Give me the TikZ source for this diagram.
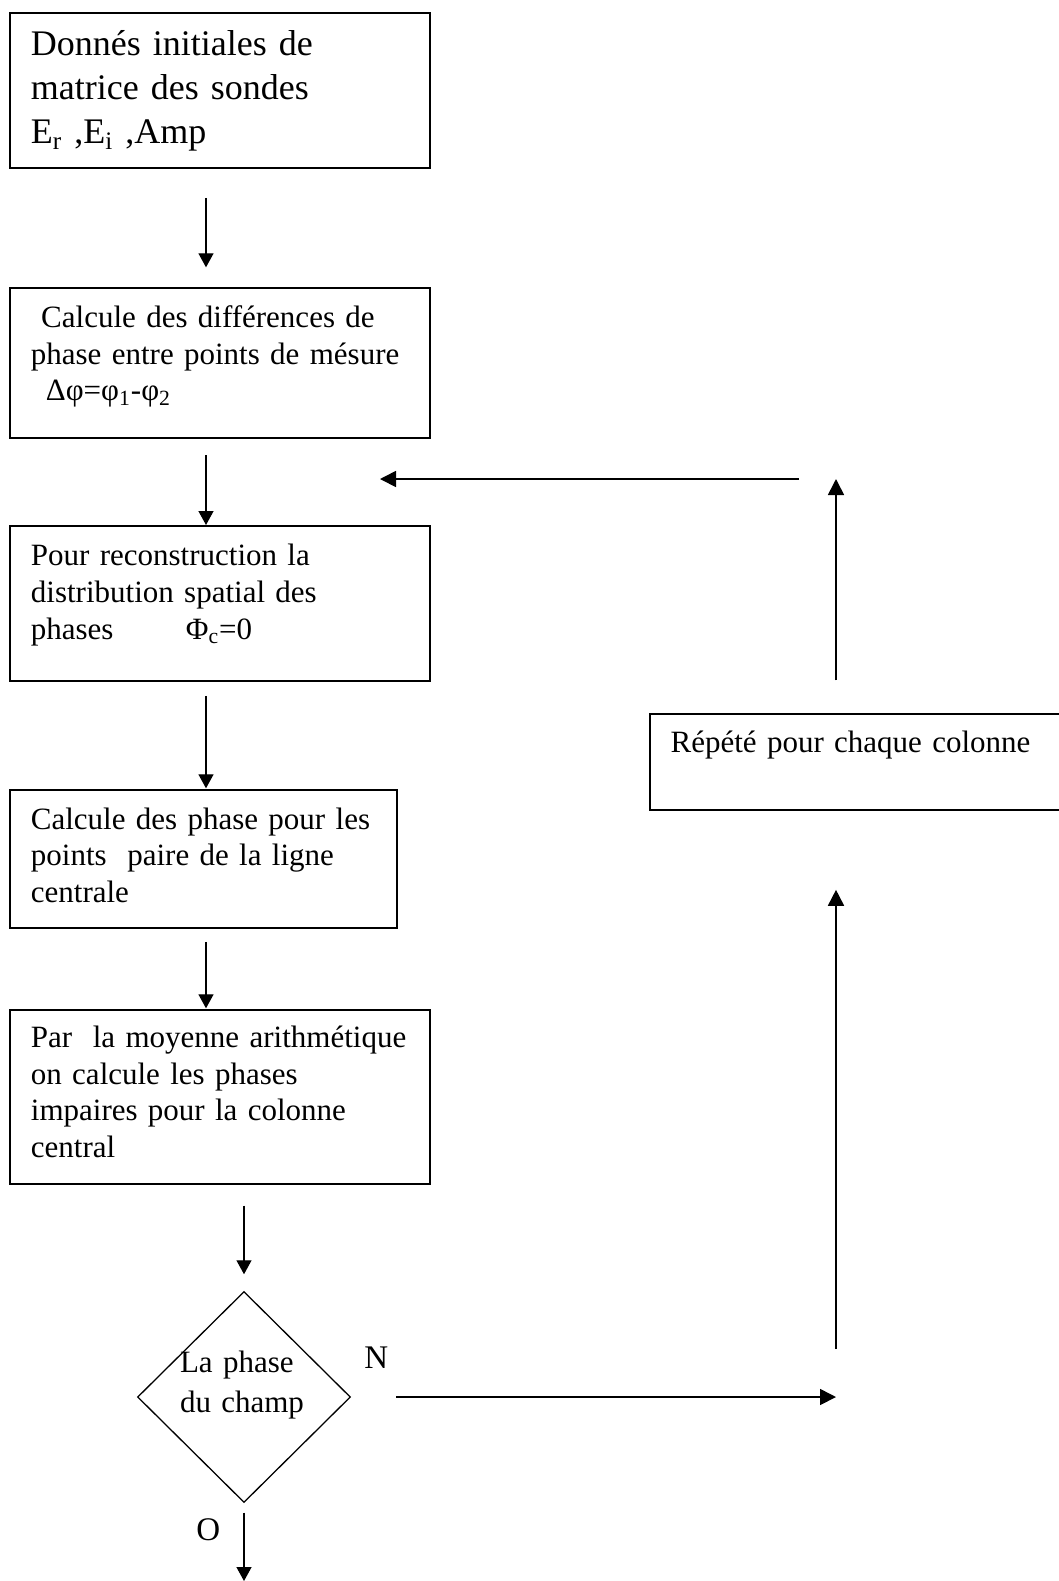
\documentclass[tikz,border=0pt]{standalone}
\usepackage{fontspec}
\setmainfont{Liberation Serif}
\usetikzlibrary{arrows.meta,shapes.geometric}

\tikzset{
  boite/.style={draw, line width=0.9pt, anchor=north west, inner xsep=10.35pt, inner ysep=0pt,
    text width=189.3pt, align=left, font=\fontsize{15.5}{18.3}\selectfont},
  losange/.style={draw, diamond, line width=0.65pt, minimum width=106.5pt, minimum height=105.5pt,
    inner sep=0pt, text width=64pt, align=left, text height=0pt, text depth=25pt,
    font=\fontsize{15.5}{20}\selectfont},
  lettre/.style={anchor=base west, inner sep=0pt, font=\fontsize{16.5}{19}\selectfont},
  fleche/.style={-{Triangle[width=7.5pt,length=7pt]}, line width=0.65pt},
  boucle/.style={-{Triangle[width=8pt,length=8pt]}, line width=0.85pt}
}

\begin{document}
\begin{tikzpicture}[x=0.5pt, y=-0.5pt]
\useasboundingbox (0,0) rectangle (1059,1581);

% Main column
\node[boite, font=\fontsize{18}{22}\selectfont, text height=21.65pt, text depth=56pt] (donnees) at (9.3,11.7)
  {Donnés initiales de\\ matrice des sondes\\ E\textsubscript{r} ,E\textsubscript{i} ,Amp};
\node[boite, text height=19.7pt, text depth=55pt] (differences) at (9.3,287.3)
  {\ Calcule des différences de\\ phase entre points de mésure\\ \hspace*{7.5pt}Δφ=φ\textsubscript{1}-φ\textsubscript{2}};
\node[boite, text height=20pt, text depth=57.5pt] (reconstruction) at (9.3,525)
  {Pour reconstruction la\\ distribution spatial des\\ \makebox[77.5pt][l]{phases}Φ\textsubscript{c}=0};
\node[boite, text width=172.65pt, text height=19.5pt, text depth=49.2pt] (paires) at (9.3,789.3)
  {Calcule des phase pour les\\ points\ \ paire de la ligne\\ centrale};
\node[boite, text height=18.7pt, text depth=68pt] (moyenne) at (9.3,1009.3)
  {Par\ \ la moyenne arithmétique\\ on calcule les phases\\ impaires pour la colonne\\ central};

% Decision
\node[losange] (test) at (244,1397) {La phase\\ du champ};
\node[lettre] (non) at (364,1368) {N};
\node[lettre] (oui) at (196,1540) {O};

% Loop
\node[boite, text height=19.2pt, text depth=28.65pt] (repete) at (649,713.3) {Répété pour chaque colonne};

\coordinate (axe) at (206,0);
\coordinate (coin) at (836,1397);
\coordinate (haut) at (836,479);
\coordinate (retour) at (380,479);
\coordinate (fin) at (244,1581);

% Arrows
\draw[fleche, shorten <=14.5pt, shorten >=10pt] (donnees.south -| axe) -- (differences.north -| axe);
\draw[fleche, shorten <=8.3pt] (differences.south -| axe) -- (reconstruction.north -| axe);
\draw[fleche, shorten <=7pt, shorten >=0.5pt] (reconstruction.south -| axe) -- (paires.north -| axe);
\draw[fleche, shorten <=6.65pt, shorten >=0.5pt] (paires.south -| axe) -- (moyenne.north -| axe);
\draw[fleche, shorten <=10.5pt, shorten >=8.3pt] (moyenne.south -| test.north) -- (test.north);
\draw[fleche, shorten <=4.7pt] (test.south) -- (test.south |- fin);

\draw[boucle, shorten <=22.5pt] (test.east) -- (coin);
\draw[boucle, shorten <=24pt, shorten >=39.5pt] (coin) -- (repete.south -| coin);
\draw[boucle, shorten <=16.5pt] (repete.north -| coin) -- (haut);
\draw[boucle, shorten <=18.5pt] (haut) -- (retour);
\end{tikzpicture}
\end{document}
